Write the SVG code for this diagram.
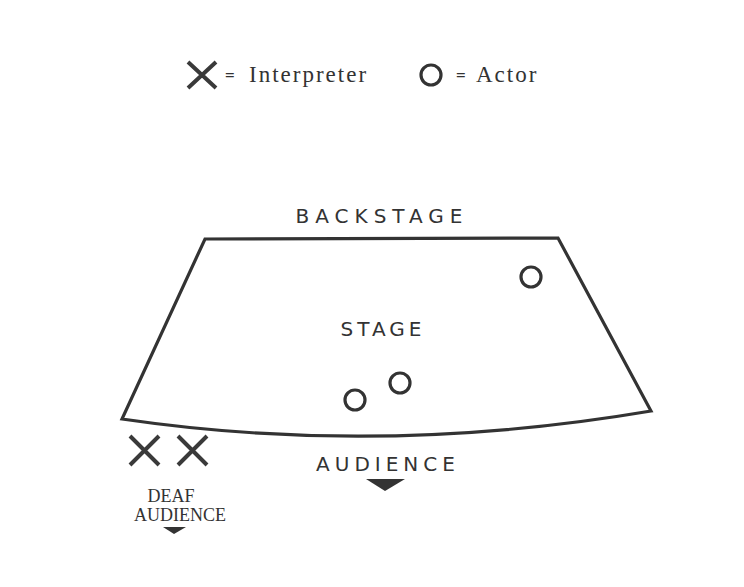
<svg xmlns="http://www.w3.org/2000/svg" width="744" height="587" viewBox="0 0 744 587">
<style>
.ln{stroke:#333;stroke-width:3.2;fill:none;stroke-linecap:butt}
.xm{stroke:#3a3a3a;stroke-width:4;fill:none}
.ci{stroke:#333;stroke-width:3.2;fill:none}
.sans{font-family:"DejaVu Sans","Liberation Sans",sans-serif;fill:#333;font-size:20px;text-anchor:middle}
.serif{font-family:"Liberation Serif",serif;fill:#333}
.leg{font-size:23px;letter-spacing:2px}
.eq{font-size:17px;font-weight:bold}
.tri{fill:#333}
</style>
<rect width="744" height="587" fill="#fff"/>
<g id="legend">
<path class="xm" d="M188 62 L216 88 M216 62 L188 88"/>
<text class="serif eq" x="225" y="81">=</text>
<text class="serif leg" x="249" y="82">Interpreter</text>
<circle class="ci" cx="431" cy="75" r="10"/>
<text class="serif eq" x="456" y="81">=</text>
<text class="serif leg" x="476" y="82">Actor</text>
</g>
<g id="stage">
<path class="ln" d="M205 239 L558 238 L651 411 Q380 457 122 419 Z"/>
<text class="sans" x="382" y="223" letter-spacing="6">BACKSTAGE</text>
<text class="sans" x="383" y="336" letter-spacing="4">STAGE</text>
<text class="sans" x="388" y="471" letter-spacing="5">AUDIENCE</text>
</g>
<g id="actors">
<circle class="ci" cx="531" cy="277" r="10"/>
<circle class="ci" cx="355" cy="400" r="10"/>
<circle class="ci" cx="400" cy="383" r="10"/>
</g>
<g id="audience">
<path class="tri" d="M366 479 L405 479 L385 491 Z"/>
</g>
<g id="deaf">
<path class="xm" d="M130 436 L159 465 M159 436 L130 465"/>
<path class="xm" d="M178 436 L207 465 M207 436 L178 465"/>
<text class="serif" x="171" y="502" font-size="18" text-anchor="middle">DEAF</text>
<text class="serif" x="180" y="521" font-size="18" text-anchor="middle">AUDIENCE</text>
<path class="tri" d="M163 527 L186 527 L174 534 Z"/>
</g>
</svg>
